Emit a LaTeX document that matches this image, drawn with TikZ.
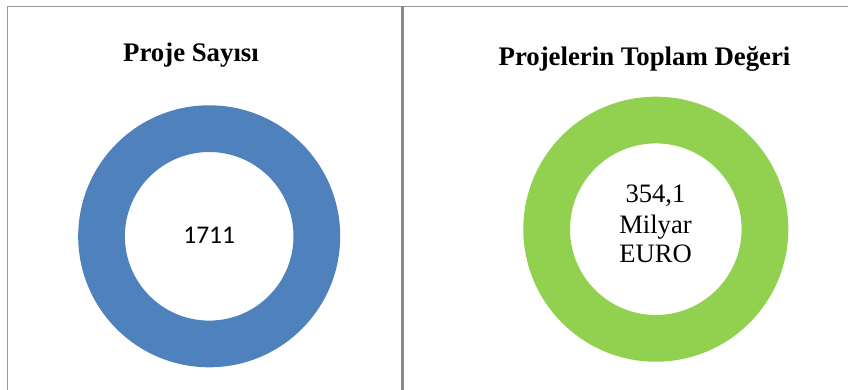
\documentclass[tikz,border=0pt]{standalone}
\usepackage{fontspec}
\setmainfont{Liberation Serif}
\newfontfamily\calibri{Carlito}
\definecolor{ringblue}{HTML}{4F81BD}
\definecolor{ringgreen}{HTML}{92D050}
\definecolor{rulegray}{HTML}{9A9A9A}
\definecolor{midgray}{HTML}{8A8A8A}
\tikzset{
  titletext/.style={anchor=base, inner sep=0pt, font=\fontsize{26.8}{29.5}\selectfont\bfseries},
  valtext/.style={anchor=base, inner sep=0pt, font=\fontsize{26.6}{29.5}\selectfont},
  numtext/.style={anchor=base, inner sep=0pt, font=\calibri\fontsize{25.5}{29}\selectfont},
  frame/.style={draw=rulegray, line width=1.5pt},
}
\begin{document}
\begin{tikzpicture}[x=1pt,y=-1pt]
\useasboundingbox (0,0) rectangle (848,390);
% table frame
\draw[frame] (7.3,6.5) -- (848,6.5);
\draw[frame] (7.3,5.75) -- (7.3,390);
\draw[draw=midgray, line width=3.3pt] (402.3,5.75) -- (402.3,390);
% rings
\fill[ringblue, even odd rule] (209.2,236.3) circle[radius=131] (209.2,236.3) circle[radius=84.3];
\fill[ringgreen, even odd rule] (655.8,229.2) circle[radius=132.5] (655.8,229.2) circle[radius=85.8];
% titles
\node[titletext] (t1) at (191,62) {Proje Sayısı};
\node[titletext] (t2) at (644.5,66) {Projelerin Toplam Değeri};
% values
\node[numtext] (v1) at (209.2,243.3) {1711};
\node[valtext] (v2a) at (655.5,203) {354,1};
\node[valtext] (v2b) at (655.5,233) {Milyar};
\node[valtext] (v2c) at (655.5,262) {EURO};
\end{tikzpicture}
\end{document}
